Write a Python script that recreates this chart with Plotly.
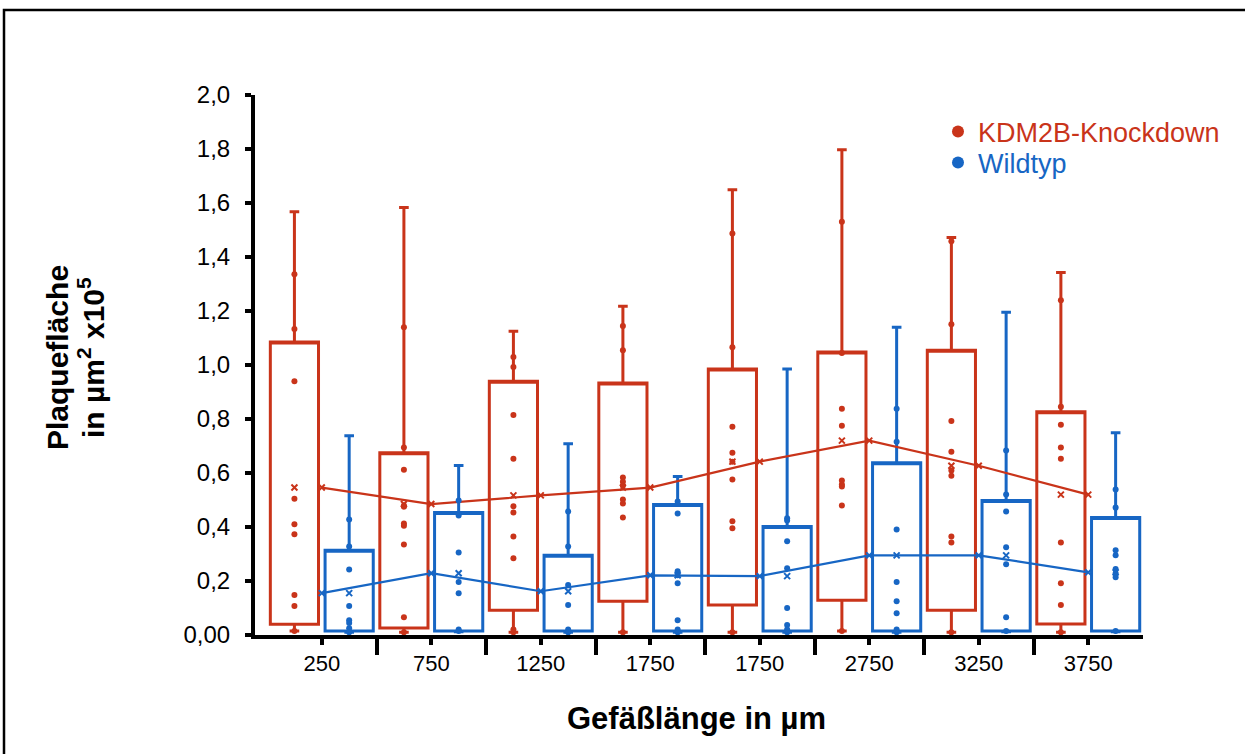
import plotly.graph_objects as go

categories = ["250", "750", "1250", "1750", "1750", "2750", "3250", "3750"]

red_min = [0.015, 0.01, 0.01, 0.01, 0.01, 0.015, 0.01, 0.01]
red_q1 = [0.04, 0.026, 0.092, 0.125, 0.111, 0.129, 0.092, 0.041]
red_q3 = [1.085, 0.675, 0.94, 0.933, 0.985, 1.048, 1.055, 0.827]
red_max = [1.568, 1.583, 1.125, 1.218, 1.649, 1.797, 1.472, 1.343]
red_mean = [0.546, 0.485, 0.517, 0.546, 0.642, 0.72, 0.627, 0.52]

blue_min = [0.01, 0.012, 0.01, 0.01, 0.01, 0.01, 0.012, 0.012]
blue_q1 = [0.015, 0.015, 0.015, 0.015, 0.015, 0.015, 0.015, 0.015]
blue_q3 = [0.314, 0.454, 0.295, 0.483, 0.402, 0.638, 0.498, 0.435]
blue_max = [0.738, 0.628, 0.708, 0.587, 0.985, 1.14, 1.195, 0.749]
blue_mean = [0.155, 0.229, 0.162, 0.221, 0.218, 0.295, 0.295, 0.232]

red_points = [
    [1.336, 1.133, 0.94, 0.505, 0.41, 0.373, 0.148, 0.107, 0.015],
    [1.14, 0.694, 0.612, 0.48, 0.475, 0.413, 0.405, 0.335, 0.066, 0.01],
    [1.03, 0.993, 0.815, 0.653, 0.477, 0.454, 0.365, 0.284, 0.02, 0.01],
    [1.144, 1.055, 0.583, 0.568, 0.553, 0.502, 0.487, 0.435, 0.01],
    [1.487, 1.066, 0.771, 0.675, 0.642, 0.576, 0.421, 0.395, 0.01],
    [1.531, 1.044, 0.838, 0.775, 0.572, 0.557, 0.55, 0.48, 0.015],
    [1.458, 1.151, 0.793, 0.679, 0.609, 0.59, 0.365, 0.343, 0.01],
    [1.24, 0.845, 0.779, 0.694, 0.653, 0.343, 0.192, 0.111, 0.01],
]
blue_points = [
    [0.428, 0.328, 0.243, 0.107, 0.055, 0.044, 0.025, 0.01],
    [0.498, 0.443, 0.306, 0.196, 0.155, 0.02, 0.015],
    [0.457, 0.328, 0.185, 0.111, 0.02, 0.01],
    [0.494, 0.45, 0.236, 0.221, 0.192, 0.055, 0.02, 0.01],
    [0.432, 0.424, 0.347, 0.247, 0.1, 0.037, 0.02, 0.01],
    [0.838, 0.716, 0.391, 0.196, 0.125, 0.081, 0.02, 0.01],
    [0.683, 0.52, 0.457, 0.325, 0.262, 0.066, 0.015],
    [0.539, 0.472, 0.314, 0.295, 0.244, 0.229, 0.214, 0.015],
]

y_tickvals = [0, 0.2, 0.4, 0.6, 0.8, 1.0, 1.2, 1.4, 1.6, 1.8, 2.0]
y_ticktext = ["0,00", "0,2", "0,4", "0,6", "0,8", "1,0", "1,2", "1,4", "1,6", "1,8", "2,0"]

RED = "#C9341A"
BLUE = "#1766C4"
FONT = "Liberation Sans, Arial, Helvetica, sans-serif"
OFF = 0.25
BOXW = 0.44

idx = list(range(len(categories)))
fig = go.Figure()

series = [
    ("KDM2B-Knockdown", RED, -OFF, red_min, red_q1, red_q3, red_max, red_mean, red_points, "legend"),
    ("Wildtyp", BLUE, OFF, blue_min, blue_q1, blue_q3, blue_max, blue_mean, blue_points, "legend2"),
]

for name, col, off, mn, q1, q3, mx, mean, pts, lg in series:
    xs = [i + off for i in idx]
    fig.add_trace(go.Box(
        x=xs, q1=q1, median=q3, q3=q3, lowerfence=mn, upperfence=mx,
        width=BOXW, whiskerwidth=0.2, boxpoints=False,
        line=dict(color=col, width=3), fillcolor="rgba(0,0,0,0)",
        showlegend=False, hoverinfo="skip",
    ))

for name, col, off, mn, q1, q3, mx, mean, pts, lg in series:
    fig.add_trace(go.Scatter(
        x=idx, y=mean, mode="lines+markers",
        line=dict(color=col, width=2.2),
        marker=dict(symbol="x-thin", size=6, line=dict(color=col, width=2)),
        showlegend=False, hoverinfo="skip",
    ))
    fig.add_trace(go.Scatter(
        x=[i + off for i in idx], y=mean, mode="markers",
        marker=dict(symbol="x-thin", size=6, line=dict(color=col, width=2)),
        showlegend=False, hoverinfo="skip",
    ))

for name, col, off, mn, q1, q3, mx, mean, pts, lg in series:
    px, py = [], []
    for i, vals in zip(idx, pts):
        for v in vals:
            px.append(i + off)
            py.append(v)
    fig.add_trace(go.Scatter(
        x=px, y=py, mode="markers", name=name, legend=lg,
        marker=dict(color=col, size=6),
        showlegend=True,
    ))

# plot area edges (page pixels)
L, R, T, B = 255, 1143, 95, 635
def px2x(p):
    return (p - L) / (R - L)
def py2y(p):
    return (B - p) / (B - T)

fig.add_shape(type="rect", xref="paper", yref="paper",
              x0=px2x(4), x1=px2x(1260), y0=py2y(10), y1=py2y(770),
              line=dict(color="black", width=2.5), fillcolor="rgba(0,0,0,0)", layer="below")

fig.add_annotation(text="<b>Gefäßlänge in µm</b>", xref="paper", yref="paper",
                   x=px2x(696), y=py2y(718), showarrow=False,
                   font=dict(family=FONT, size=31, color="black"),
                   xanchor="center", yanchor="middle")
fig.add_annotation(text="<b>Plaquefläche</b>", xref="paper", yref="paper",
                   x=px2x(57), y=py2y(358), showarrow=False, textangle=-90,
                   font=dict(family=FONT, size=30, color="black"),
                   xanchor="center", yanchor="middle")
fig.add_annotation(text="<b>in µm<sup>2</sup> x10<sup>5</sup></b>", xref="paper", yref="paper",
                   x=px2x(91), y=py2y(358), showarrow=False, textangle=-90,
                   font=dict(family=FONT, size=30, color="black"),
                   xanchor="center", yanchor="middle")

fig.update_layout(
    width=1245, height=754,
    margin=dict(l=L, r=1245 - R, t=T, b=754 - B),
    plot_bgcolor="white", paper_bgcolor="white",
    font=dict(family=FONT, color="black"),
    legend=dict(x=px2x(938), y=py2y(132), xanchor="left", yanchor="middle",
                font=dict(family=FONT, size=27, color=RED), bgcolor="rgba(0,0,0,0)",
                itemsizing="constant"),
    legend2=dict(x=px2x(938), y=py2y(163), xanchor="left", yanchor="middle",
                 font=dict(family=FONT, size=27, color=BLUE), bgcolor="rgba(0,0,0,0)",
                 itemsizing="constant"),
    xaxis=dict(
        range=[-0.61, 7.5], tickmode="array", tickvals=idx, ticktext=categories,
        ticks="outside", ticklen=6, tickwidth=4, tickcolor="black",
        showline=True, linewidth=4, linecolor="black",
        showgrid=False, zeroline=False,
        tickfont=dict(family=FONT, size=22, color="black"),
        ticklabelstandoff=0,
        minor=dict(tickmode="array", tickvals=[i + 0.5 for i in idx[:-1]], ticks="outside",
                   ticklen=16, tickwidth=4, tickcolor="black", showgrid=False),
    ),
    yaxis=dict(
        range=[0, 2.0], tickmode="array", tickvals=y_tickvals, ticktext=y_ticktext,
        ticks="outside", ticklen=6, tickwidth=4, tickcolor="black",
        showline=True, linewidth=4, linecolor="black",
        showgrid=False, zeroline=False,
        tickfont=dict(family=FONT, size=24, color="black"),
        ticklabelstandoff=10,
    ),
)

fig.write_html("out.html", config={"displayModeBar": False},
               post_script="document.body.style.margin='0px';document.documentElement.style.overflow='hidden';")
